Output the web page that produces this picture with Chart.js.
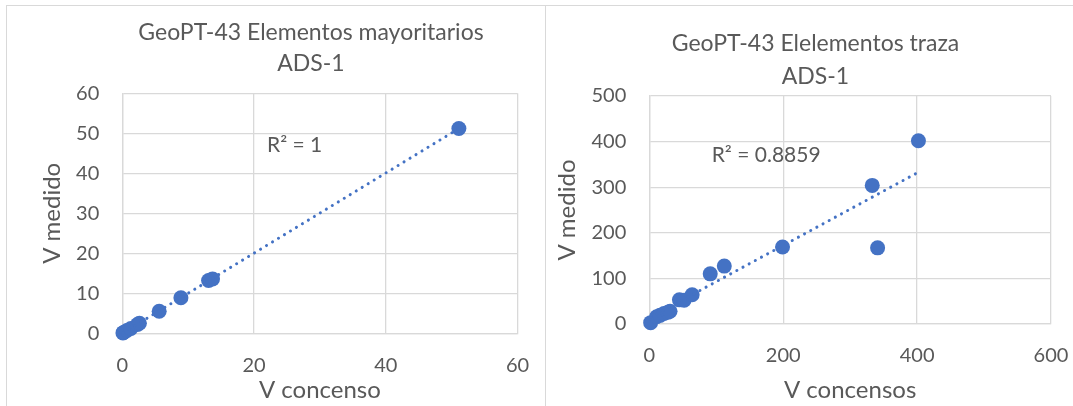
<!DOCTYPE html>
<html>
<head>
<meta charset="utf-8">
<script src="https://cdn.jsdelivr.net/npm/chart.js@4"></script>
<style>
  body { margin: 0; background: #fff; }
  .marco { position: absolute; border-color: #d9d9d9; border-style: solid; border-width: 0; }
  .caja { position: absolute; top: 0; height: 406px; }
</style>
</head>
<body>
<!-- bordes de las dos áreas de gráfico -->
<div class="marco" style="left:6px; top:5px; width:1067px; height:401px; border-top-width:1.5px; border-left-width:1.5px;"></div>
<div class="marco" style="left:545px; top:5px; width:0; height:401px; border-left-width:1.5px;"></div>

<div class="caja" style="left:0; width:546px;"><canvas id="mayoritarios"></canvas></div>
<div class="caja" style="left:546px; width:527px;"><canvas id="traza"></canvas></div>

<script>
// Elementos mayoritarios: valor de consenso vs valor medido
const mayConsenso = [0.1, 0.2, 0.7, 1.3, 2.3, 2.6, 5.6, 8.9, 13.1, 13.7, 51.1];
const mayMedido = [0.1, 0.2, 0.7, 1.2, 2.2, 2.5, 5.5, 8.9, 13.2, 13.6, 51.2];
// Línea de tendencia (extremos)
const mayTendX = [0.1, 51.1];
const mayTendY = [0.1, 51.2];
const mayR2 = "R² = 1";

// Elementos traza
const trazaConsenso = [2, 11, 16, 22, 28, 31, 45, 52, 64, 91, 112, 199, 333, 341, 402];
const trazaMedido = [3, 16, 19, 23, 26, 28, 53, 52, 64, 110, 127, 169, 304, 167, 402];
const trazaTendX = [2, 402];
const trazaTendY = [15, 333];
const trazaR2 = "R² = 0.8859";

const azul = "#4472C4";
const gris = "#595959";
const grilla = "#d9d9d9";
const fuente = "Lato";

function puntos(xs, ys) {
  return xs.map((x, i) => ({ x: x, y: ys[i] }));
}

// texto del R² dentro del área del gráfico
const textoR2 = {
  id: "textoR2",
  afterDatasetsDraw(chart, args, opts) {
    const ctx = chart.ctx;
    const a = chart.chartArea;
    ctx.save();
    ctx.font = "21px " + fuente;
    ctx.fillStyle = gris;
    ctx.textAlign = "left";
    ctx.textBaseline = "middle";
    ctx.fillText(opts.texto, a.left + opts.dx, a.top + opts.dy);
    ctx.restore();
  },
};

// el título de Excel no queda centrado en el canvas: lo corro
const moverTitulo = {
  id: "moverTitulo",
  afterLayout(chart, args, opts) {
    const t = chart.titleBlock;
    if (!t) return;
    const d = opts.centro - (t.left + t.right) / 2;
    t.left += d;
    t.right += d;
  },
};

function grafico(id, cfg) {
  new Chart(document.getElementById(id), {
    type: "scatter",
    data: {
      datasets: [
        {
          label: "Tendencia",
          data: puntos(cfg.tendX, cfg.tendY),
          showLine: true,
          borderColor: azul,
          borderWidth: 3,
          borderDash: [0.1, 6.9],
          borderCapStyle: "round",
          pointRadius: 0,
          fill: false,
          clip: false,
        },
        {
          label: "Datos",
          data: puntos(cfg.x, cfg.y),
          backgroundColor: azul,
          borderWidth: 0,
          pointRadius: 7.5,
          pointHoverRadius: 7.5,
          clip: false,
        },
      ],
    },
    options: {
      responsive: true,
      maintainAspectRatio: false,
      animation: false,
      layout: {
        padding: { left: cfg.padL, right: cfg.padR, top: 0, bottom: 0 },
      },
      plugins: {
        legend: { display: false },
        tooltip: { enabled: false },
        title: {
          display: true,
          text: cfg.titulo,
          color: gris,
          font: { family: fuente, size: 23, weight: "normal", lineHeight: cfg.lineaTitulo },
          padding: { top: cfg.tituloArriba, bottom: cfg.tituloAbajo },
        },
        moverTitulo: { centro: cfg.centroTitulo },
        textoR2: { texto: cfg.r2, dx: cfg.r2dx, dy: cfg.r2dy },
      },
      scales: {
        x: {
          min: 0,
          max: cfg.xMax,
          ticks: { stepSize: cfg.xPaso, color: gris, padding: 20, font: { family: fuente, size: 20 } },
          grid: { color: grilla, lineWidth: 1.3, drawTicks: false },
          border: { color: grilla, width: 1.3 },
          title: {
            display: true,
            text: cfg.tituloX,
            color: gris,
            font: { family: fuente, size: 24 },
            padding: { top: 0, bottom: 1.6 },
          },
          afterFit: function (s) {
            s.height = cfg.altoX;
            s.paddingLeft = 0;
            s.paddingRight = 0;
          },
        },
        y: {
          min: 0,
          max: cfg.yMax,
          ticks: { stepSize: cfg.yPaso, color: gris, padding: 23, font: { family: fuente, size: 20 } },
          grid: { color: grilla, lineWidth: 1.3, drawTicks: false },
          border: { color: grilla, width: 1.3 },
          title: {
            display: true,
            text: "V medido",
            color: gris,
            font: { family: fuente, size: 24 },
            padding: { top: cfg.yTituloPad, bottom: 0 },
          },
          afterFit: function (s) {
            s.width = cfg.anchoY;
            s.paddingTop = 0;
            s.paddingBottom = 0;
          },
        },
      },
    },
    plugins: [textoR2, moverTitulo],
  });
}

grafico("mayoritarios", {
  titulo: ["GeoPT-43 Elementos mayoritarios", "ADS-1"],
  tituloX: "V concenso",
  x: mayConsenso,
  y: mayMedido,
  tendX: mayTendX,
  tendY: mayTendY,
  r2: mayR2,
  r2dx: 144.7,
  r2dy: 51.7,
  xMax: 60,
  xPaso: 20,
  yMax: 60,
  yPaso: 10,
  padL: 30,
  padR: 28.5,
  anchoY: 92.3,
  yTituloPad: 7.6,
  altoX: 72.7,
  lineaTitulo: 31 / 23,
  tituloArriba: 17,
  tituloAbajo: 14.3,
  centroTitulo: 311,
});

grafico("traza", {
  titulo: ["GeoPT-43 Elelementos traza", "ADS-1"],
  tituloX: "V concensos",
  x: trazaConsenso,
  y: trazaMedido,
  tendX: trazaTendX,
  tendY: trazaTendY,
  r2: trazaR2,
  r2dx: 62.4,
  r2dy: 59,
  xMax: 600,
  xPaso: 200,
  yMax: 500,
  yPaso: 100,
  padL: 0,
  padR: 22,
  anchoY: 103.3,
  yTituloPad: 6.6,
  altoX: 82,
  lineaTitulo: 32.8 / 23,
  tituloArriba: 27.1,
  tituloAbajo: 3.3,
  centroTitulo: 269.5,
});
</script>
</body>
</html>
